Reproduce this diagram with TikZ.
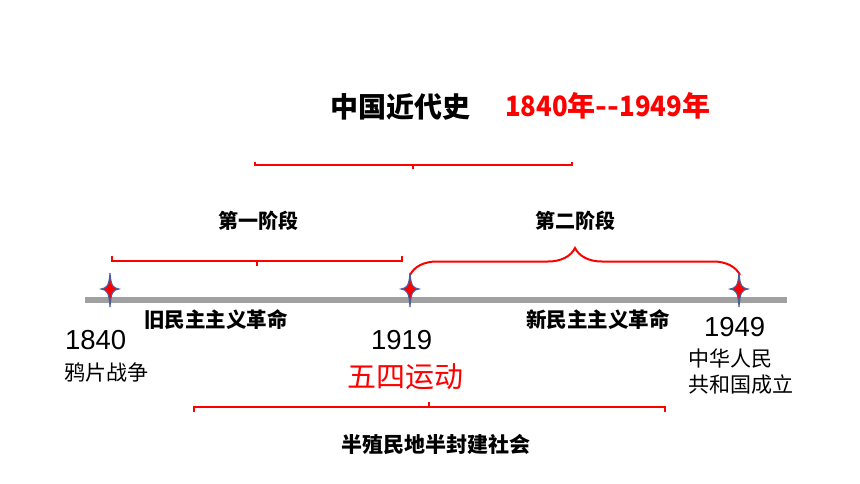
\documentclass[tikz,border=0pt]{standalone}
\usepackage{fontspec}
\setmainfont{Noto Sans CJK SC}
\newfontfamily\arialf{Liberation Sans}
\usetikzlibrary{decorations.pathreplacing}
\definecolor{bred}{RGB}{255,0,0}
\definecolor{lgray}{RGB}{160,160,160}
\definecolor{sblue}{RGB}{70,95,160}
\begin{document}
\begin{tikzpicture}[x=1pt,y=-1pt,
  txt/.style={inner sep=0pt, outer sep=0pt, text=black},
  bracketline/.style={draw=bred, line width=2pt},
  mstar/.pic={\path[fill=bred, draw=sblue, line width=1.1pt]
     (0,-16) .. controls (1,-3) and (3,-1) .. (9,0)
     .. controls (3,1) and (1,3) .. (0,18)
     .. controls (-1,3) and (-3,1) .. (-9,0)
     .. controls (-3,-1) and (-1,-3) .. cycle;}]
\useasboundingbox (0,0) rectangle (860,484);
\fill[white] (0,0) rectangle (860,484);

% title
\node[txt, anchor=west, font=\fontsize{28}{30}\selectfont\bfseries] (title) at (330,107) {中国近代史};
\node[txt, anchor=west, text=bred, font=\fontsize{28}{31}\selectfont\bfseries] (years) at (505,106)
  {\scalebox{0.92}[1]{1840}年\scalebox{1.1}[1]{-{}-}\scalebox{0.92}[1]{1949}年};

% top bracket
\coordinate (tbL) at (255,165);
\coordinate (tbR) at (572,165);
\coordinate (tbM) at (413,165);
\draw[bracketline] ([yshift=3pt]tbL) -- (tbL) -- (tbR) -- ([yshift=3pt]tbR);
\draw[bracketline] (tbM) -- ([yshift=-4pt]tbM);

% stage labels
\node[txt, font=\fontsize{20}{22}\selectfont\bfseries] (s1) at (258,221) {第一阶段};
\node[txt, font=\fontsize{20}{22}\selectfont\bfseries] (s2) at (575,221) {第二阶段};

% bracket stage 1
\coordinate (b1L) at (112,261);
\coordinate (b1R) at (402,261);
\coordinate (b1M) at (257,261);
\draw[bracketline] ([yshift=5pt]b1L) -- (b1L) -- (b1R) -- ([yshift=5pt]b1R);
\draw[bracketline] (b1M) -- ([yshift=-5pt]b1M);

% brace stage 2
\coordinate (b2L) at (410,275);
\coordinate (b2R) at (740,275);
\draw[bracketline, decorate, decoration={brace, amplitude=27pt}] (b2L) -- (b2R);

% timeline
\coordinate (tlL) at (85,300);
\coordinate (tlR) at (787,300);
\draw[draw=lgray, line width=6pt] (tlL) -- (tlR);

% stars
\pic at (110,289) {mstar};
\pic at (410,289) {mstar};
\pic at (739,289) {mstar};

% revolution labels
\node[txt, font=\fontsize{20.5}{22}\selectfont\bfseries] (old) at (216,320) {旧民主主义革命};
\node[txt, font=\fontsize{20.5}{22}\selectfont\bfseries] (new) at (598,320) {新民主主义革命};

% years and events
\node[txt, anchor=west, font=\arialf\fontsize{27.5}{30}\selectfont] (y1840) at (65,340) {1840};
\node[txt, anchor=west, font=\fontsize{21}{23}\selectfont] (e1840) at (64,372) {鸦片战争};
\node[txt, anchor=west, font=\arialf\fontsize{27.5}{30}\selectfont] (y1919) at (371,340) {1919};
\node[txt, text=bred, font=\fontsize{29}{31}\selectfont] (e1919) at (405,377) {五四运动};
\node[txt, anchor=west, font=\arialf\fontsize{27.5}{30}\selectfont] (y1949) at (704,327) {1949};
\node[txt, anchor=west, font=\fontsize{21}{23}\selectfont] (e1949a) at (688,359) {中华人民};
\node[txt, anchor=west, font=\fontsize{21}{23}\selectfont] (e1949b) at (688,385) {共和国成立};

% bottom bracket
\coordinate (bbL) at (194,407);
\coordinate (bbR) at (665,407);
\coordinate (bbM) at (429,407);
\draw[bracketline] ([yshift=-5pt]bbL) -- (bbL) -- (bbR) -- ([yshift=-5pt]bbR);
\draw[bracketline] (bbM) -- ([yshift=5pt]bbM);

\node[txt, font=\fontsize{21}{23}\selectfont\bfseries] (society) at (436,444) {半殖民地半封建社会};
\end{tikzpicture}
\end{document}
